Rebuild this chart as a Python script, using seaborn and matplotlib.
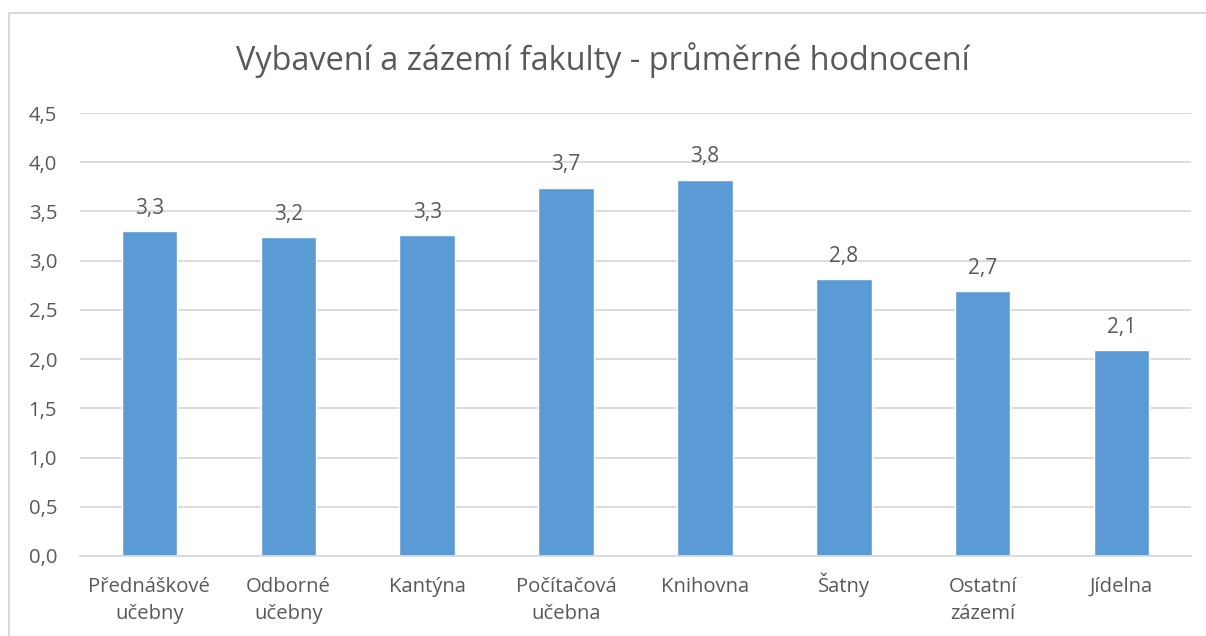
import matplotlib
matplotlib.use("Agg")
import matplotlib.pyplot as plt
from matplotlib.lines import Line2D
from matplotlib.ticker import FuncFormatter
from matplotlib.transforms import ScaledTranslation
import seaborn as sns
import pandas as pd

# Data
kategorie = ["Přednáškové\nučebny", "Odborné\nučebny", "Kantýna", "Počítačová\nučebna",
             "Knihovna", "Šatny", "Ostatní\nzázemí", "Jídelna"]
hodnoceni = [3.30, 3.24, 3.26, 3.74, 3.82, 2.81, 2.69, 2.09]
titulek = "Vybavení a zázemí fakulty - průměrné hodnocení"

sns.set_theme(style="white")
plt.rcParams['font.family'] = ['Open Sans', 'DejaVu Sans']

text_color = "#595959"
grid_color = "#D9D9D9"
bar_color = "#5B9BD5"

df = pd.DataFrame({"kategorie": kategorie, "hodnoceni": hodnoceni})

fig = plt.figure(figsize=(12.06, 6.36), dpi=100)
ax = fig.add_axes([80 / 1206, 1 - 556 / 636, 1111 / 1206, 443 / 636])

sns.barplot(data=df, x="kategorie", y="hodnoceni", color=bar_color,
            width=0.40, saturation=1, ax=ax, zorder=3)

ax.set_ylim(0, 4.5)
ax.set_yticks([i * 0.5 for i in range(10)])
ax.yaxis.set_major_formatter(FuncFormatter(lambda v, p: f"{v:.1f}".replace(".", ",")))
ax.grid(axis="y", color=grid_color, linewidth=1.3, zorder=0)
ax.grid(axis="x", visible=False)
for s in ["top", "right", "left"]:
    ax.spines[s].set_visible(False)
ax.spines["bottom"].set_color(grid_color)
ax.spines["bottom"].set_linewidth(1.3)
ax.spines["bottom"].set_zorder(4)

ax.set_xlabel("")
ax.set_ylabel("")
ax.tick_params(axis="both", length=0, labelsize=14.6, colors=text_color)
ax.tick_params(axis="x", pad=15)
ax.tick_params(axis="y", pad=16.5)
for lbl in ax.get_xticklabels():
    lbl.set_linespacing(1.45)
    # the caron on "Š" pushes the label down, lift it back onto the same line
    if lbl.get_text().startswith("Š"):
        lbl.set_transform(lbl.get_transform() + ScaledTranslation(0, 0.045, fig.dpi_scale_trans))

ax.bar_label(ax.containers[0], labels=[f"{v:.1f}".replace(".", ",") for v in hodnoceni],
             padding=9, fontsize=15, color=text_color)

fig.text(0.5, 1 - 60 / 636, titulek, ha="center", va="center", fontsize=23.4, color=text_color)

# Outer chart border
fig.add_artist(Line2D([9 / 1206, 9 / 1206], [0, 1 - 13 / 636], transform=fig.transFigure,
                      color=grid_color, linewidth=1.5))
fig.add_artist(Line2D([9 / 1206, 1], [1 - 13 / 636, 1 - 13 / 636], transform=fig.transFigure,
                      color=grid_color, linewidth=1.5))

fig.savefig("out.png", dpi=100)
